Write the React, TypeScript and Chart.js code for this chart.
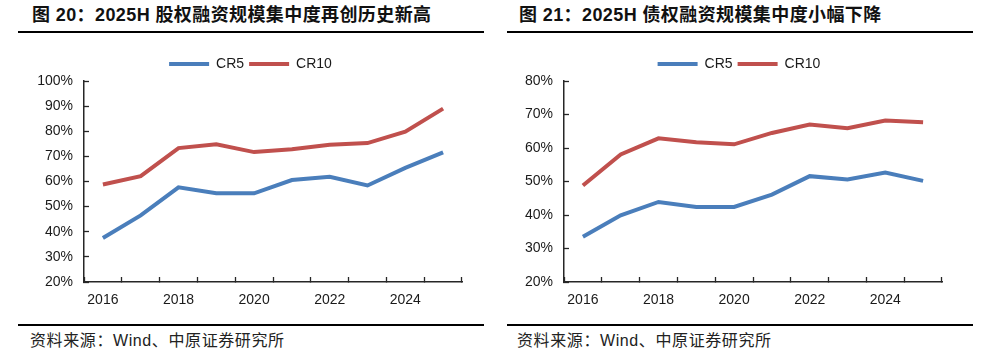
import React, { useEffect, useRef } from 'react';
import { Chart, registerables } from 'chart.js';

Chart.register(...registerables);

// ---------- data ----------
const years = ['2016', '2017', '2018', '2019', '2020', '2021', '2022', '2023', '2024', '2025'];
const xTickLabels = ['2016', '', '2018', '', '2020', '', '2022', '', '2024', ''];
const seriesNames = ['CR5', 'CR10'];

const equityCR5 = [37.5, 46.5, 57.7, 55.3, 55.3, 60.6, 61.9, 58.4, 65.4, 71.6];
const equityCR10 = [58.8, 62.1, 73.3, 74.8, 71.7, 72.8, 74.6, 75.3, 79.8, 89.0];
const debtCR5 = [33.5, 39.9, 43.9, 42.4, 42.4, 46.1, 51.6, 50.6, 52.7, 50.2];
const debtCR10 = [48.8, 58.1, 62.9, 61.7, 61.1, 64.5, 67.0, 65.9, 68.2, 67.7];

const equityYRange = [20, 100];
const debtYRange = [20, 80];
const yStep = 10;

const leftTitle = '图 20：2025H 股权融资规模集中度再创历史新高';
const rightTitle = '图 21：2025H 债权融资规模集中度小幅下降';
const sourceText = '资料来源：Wind、中原证券研究所';

// ---------- style ----------
const BLUE = '#4A7EBB';
const RED = '#C0504D';
const AXIS = '#262626';
const TEXT = '#1a1a1a';
const LATIN = '"Liberation Sans", Arial, sans-serif';
const CJK = '"Liberation Sans", Arial, "Noto Sans CJK SC", sans-serif';

type ChartProps = {
  cr5: number[];
  cr10: number[];
  yRange: number[];
  yAxisWidth: number;
  padRight: number;
  legendLeft: number;
  left: number;
};

function LineChart({ cr5, cr10, yRange, yAxisWidth, padRight, legendLeft, left }: ChartProps) {
  const ref = useRef<HTMLCanvasElement | null>(null);
  useEffect(() => {
    if (!ref.current) return;
    const font = { family: LATIN, size: 14 };
    const legendShift = {
      id: 'legendShift',
      afterLayout(chart: any) {
        if (chart.legend) chart.legend.left = legendLeft;
      },
    };
    const chart = new Chart(ref.current, {
      type: 'line',
      data: {
        labels: years,
        datasets: [
          {
            label: seriesNames[0],
            data: cr5,
            borderColor: BLUE,
            backgroundColor: BLUE,
            borderWidth: 4,
            pointRadius: 0,
            tension: 0,
          },
          {
            label: seriesNames[1],
            data: cr10,
            borderColor: RED,
            backgroundColor: RED,
            borderWidth: 4,
            pointRadius: 0,
            tension: 0,
          },
        ],
      },
      options: {
        responsive: false,
        animation: false,
        devicePixelRatio: 1,
        layout: { padding: { top: 12, left: 0, right: padRight, bottom: 0 } },
        plugins: {
          legend: {
            display: true,
            position: 'top',
            labels: {
              usePointStyle: true,
              pointStyle: 'line',
              pointStyleWidth: 40,
              padding: 5,
              color: TEXT,
              font,
            },
          },
          tooltip: { enabled: false },
        },
        scales: {
          x: {
            type: 'category',
            offset: true,
            grid: {
              offset: true,
              drawOnChartArea: false,
              drawTicks: true,
              tickLength: -5,
              tickColor: AXIS,
              tickWidth: 1.3,
            },
            border: { display: true, color: AXIS, width: 1.5 },
            ticks: {
              autoSkip: false,
              maxRotation: 0,
              minRotation: 0,
              padding: 15,
              color: TEXT,
              font,
              callback: (_v: any, i: number) => xTickLabels[i],
            },
            afterFit: (s: any) => {
              s.height = 33;
            },
          },
          y: {
            min: yRange[0],
            max: yRange[1],
            grid: {
              drawOnChartArea: false,
              drawTicks: true,
              tickLength: -5,
              tickColor: AXIS,
              tickWidth: 1.3,
            },
            border: { display: true, color: AXIS, width: 1.5 },
            ticks: {
              stepSize: yStep,
              padding: 16,
              color: TEXT,
              font,
              callback: (v: any) => v + '%',
            },
            afterFit: (s: any) => {
              s.width = yAxisWidth;
            },
          },
        },
      } as any,
      plugins: [legendShift],
    });
    return () => chart.destroy();
  }, []);
  return (
    <canvas
      ref={ref}
      width={493}
      height={275}
      style={{ position: 'absolute', left, top: 40, width: 493, height: 275, display: 'block' }}
    />
  );
}

function Panel({ lineLeft, lineRight, textLeft, title }: { lineLeft: number; lineRight: number; textLeft: number; title: string }) {
  return (
    <>
      <div
        style={{
          position: 'absolute',
          left: textLeft,
          top: 4,
          fontFamily: CJK,
          fontWeight: 700,
          fontSize: 18,
          lineHeight: '22px',
          letterSpacing: 0.4,
          color: '#111',
          whiteSpace: 'nowrap',
        }}
      >
        {title}
      </div>
      <div style={{ position: 'absolute', left: lineLeft, top: 31, width: lineRight - lineLeft, height: 2, background: '#000' }} />
      <div style={{ position: 'absolute', left: lineLeft, top: 324, width: lineRight - lineLeft, height: 2, background: '#000' }} />
      <div
        style={{
          position: 'absolute',
          left: textLeft - 2,
          top: 331,
          fontFamily: CJK,
          fontSize: 16,
          lineHeight: '20px',
          letterSpacing: 0.6,
          color: '#222',
          whiteSpace: 'nowrap',
        }}
      >
        {sourceText}
      </div>
    </>
  );
}

export default function App() {
  return (
    <div
      style={{
        position: 'fixed',
        left: 0,
        top: 0,
        width: 987,
        height: 357,
        background: '#fff',
        overflow: 'hidden',
      }}
    >
      <Panel lineLeft={18} lineRight={484} textLeft={32} title={leftTitle} />
      <Panel lineLeft={507} lineRight={973} textLeft={519} title={rightTitle} />
      <LineChart cr5={equityCR5} cr10={equityCR10} yRange={equityYRange} yAxisWidth={84} padRight={31} legendLeft={39} left={0} />
      <LineChart cr5={debtCR5} cr10={debtCR10} yRange={debtYRange} yAxisWidth={70} padRight={45} legendLeft={42} left={494} />
    </div>
  );
}
